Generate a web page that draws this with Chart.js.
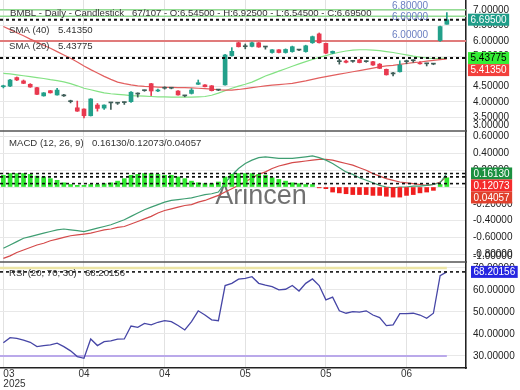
<!DOCTYPE html>
<html>
<head>
<meta charset="utf-8">
<script src="https://cdn.jsdelivr.net/npm/chart.js@4.4.1/dist/chart.umd.min.js"></script>
<style>
  html, body { margin: 0; padding: 0; background: #fff; }
  #wrap { width: 520px; height: 390px; }
</style>
</head>
<body>
<div id="wrap"><canvas id="c" width="520" height="390"></canvas></div>
<script>
const FONT = '"Liberation Sans", Arial, sans-serif';

// daily candles, index 0..66 (candle 67/107 is the last one)
const opens = [4.50,4.52,4.80,4.69,4.58,4.47,4.20,4.37,4.23,4.20, 4.01,3.81,3.77,3.55,3.90,3.80,3.97,3.96,3.98,4.01,
  4.26,4.37,4.60,4.36,4.45,4.45,4.36,4.20,4.28,4.58, 4.56,4.53,4.39,4.56,5.52,5.94,5.81,5.82,5.94,5.80,
  5.62,5.71,5.62,5.65,5.70,5.65,5.94,6.23,5.92,5.60, 5.32,5.34,5.33,5.38,5.32,5.32,5.24,5.07,4.92,4.99,
  5.32,5.35,5.28,5.25,5.24,6.01,6.545];
const highs = [4.55,4.74,4.82,4.72,4.60,4.48,4.31,4.38,4.45,4.25, 4.06,4.03,3.78,4.11,3.95,3.91,3.98,3.99,4.00,4.34,
  4.30,4.39,4.61,4.42,4.50,4.47,4.37,4.22,4.44,4.72, 4.57,4.54,4.41,5.56,5.78,5.96,5.90,5.96,5.95,5.82,
  5.72,5.72,5.74,5.83,5.72,5.86,6.16,6.26,5.93,5.67, 5.40,5.37,5.36,5.40,5.35,5.33,5.26,5.08,4.97,5.35,
  5.37,5.38,5.32,5.27,5.26,6.49,6.925];
const lows = [4.46,4.50,4.70,4.60,4.48,4.24,4.19,4.29,4.22,4.18, 3.97,3.69,3.48,3.54,3.70,3.76,3.76,3.92,3.92,3.99,
  4.16,4.35,4.21,4.34,4.42,4.43,4.22,4.17,4.26,4.57, 4.49,4.36,4.37,4.55,5.50,5.80,5.74,5.80,5.79,5.73,
  5.60,5.61,5.60,5.63,5.68,5.63,5.92,5.93,5.58,5.58, 5.24,5.28,5.30,5.28,5.30,5.20,5.09,4.88,4.85,4.98,
  5.25,5.30,5.24,5.18,5.22,5.98,6.545];
const closes = [4.51,4.72,4.72,4.61,4.49,4.25,4.30,4.30,4.39,4.20, 4.01,3.70,3.55,4.10,3.79,3.90,3.97,3.96,3.98,4.32,
  4.26,4.37,4.36,4.39,4.45,4.45,4.23,4.20,4.39,4.63, 4.50,4.37,4.39,5.54,5.66,5.81,5.81,5.94,5.80,5.80,
  5.71,5.62,5.72,5.81,5.70,5.84,6.14,5.94,5.60,5.66, 5.32,5.30,5.33,5.29,5.32,5.21,5.10,4.89,4.92,5.21,
  5.32,5.35,5.25,5.25,5.24,6.47,6.695];

const sma20 = [4.94,4.92,4.89,4.86,4.83,4.80,4.77,4.73,4.70,4.66, 4.60,4.53,4.45,4.40,4.35,4.30,4.27,4.25,4.23,4.21,
  4.20,4.19,4.18,4.17,4.17,4.16,4.16,4.16,4.16,4.17, 4.18,4.22,4.29,4.37,4.45,4.52,4.58,4.65,4.75,4.85,
  4.93,5.01,5.09,5.17,5.25,5.32,5.39,5.46,5.52,5.58, 5.63,5.67,5.70,5.71,5.71,5.70,5.68,5.65,5.62,5.58,
  5.54,5.50,5.47,5.44,5.42,5.43,5.43775];
const sma40 = [6.47,6.37,6.27,6.17,6.06,5.96,5.86,5.76,5.65,5.54, 5.43,5.31,5.18,5.06,4.95,4.84,4.74,4.65,4.60,4.56,
  4.53,4.51,4.50,4.49,4.48,4.48,4.47,4.47,4.46,4.45, 4.44,4.42,4.40,4.39,4.39,4.41,4.44,4.47,4.50,4.53,
  4.55,4.57,4.59,4.61,4.65,4.69,4.74,4.79,4.83,4.87, 4.91,4.95,4.99,5.03,5.07,5.11,5.15,5.18,5.20,5.23,
  5.26,5.29,5.31,5.34,5.36,5.39,5.4135];

const macdLine = [-0.73,-0.69,-0.65,-0.61,-0.59,-0.57,-0.55,-0.53,-0.51,-0.50, -0.51,-0.52,-0.53,-0.51,-0.49,-0.47,-0.45,-0.42,-0.39,-0.35,
  -0.31,-0.27,-0.24,-0.21,-0.18,-0.16,-0.15,-0.14,-0.13,-0.11, -0.09,-0.08,-0.06,0.05,0.14,0.22,0.28,0.32,0.35,0.36,
  0.35,0.34,0.34,0.34,0.35,0.36,0.37,0.35,0.32,0.28, 0.23,0.18,0.15,0.11,0.08,0.05,0.02,0.00,-0.01,0.00,
  0.00,0.01,0.01,0.02,0.03,0.05,0.1613];
const signalLine = [-0.85,-0.82,-0.78,-0.75,-0.72,-0.69,-0.67,-0.64,-0.62,-0.60, -0.58,-0.57,-0.56,-0.55,-0.53,-0.51,-0.50,-0.48,-0.47,-0.44,
  -0.41,-0.38,-0.35,-0.31,-0.28,-0.26,-0.24,-0.22,-0.21,-0.18, -0.16,-0.13,-0.10,-0.06,-0.02,0.02,0.06,0.11,0.15,0.18,
  0.22,0.25,0.27,0.29,0.30,0.31,0.32,0.33,0.33,0.32, 0.30,0.28,0.26,0.23,0.20,0.16,0.13,0.10,0.08,0.06,
  0.05,0.04,0.03,0.02,0.03,0.06,0.12073];
const macdHist = [0.14,0.16,0.16,0.16,0.15,0.13,0.12,0.10,0.08,0.05, 0.03,0.02,0.02,0.03,0.03,0.04,0.05,0.07,0.10,0.14,
  0.15,0.16,0.16,0.15,0.14,0.14,0.12,0.10,0.07,0.05, 0.04,0.04,0.06,0.12,0.15,0.16,0.16,0.16,0.15,0.14,
  0.11,0.09,0.07,0.05,0.04,0.03,0.03,-0.01,-0.02,-0.06, -0.07,-0.08,-0.09,-0.09,-0.09,-0.10,-0.10,-0.11,-0.12,-0.12,
  -0.10,-0.09,-0.07,-0.06,-0.04,0.03,0.11];

const rsi = [36.0,38.3,38.0,37.2,36.2,34.2,34.7,35.0,35.8,34.2, 32.3,29.7,28.9,37.7,34.7,36.5,36.8,37.6,37.7,43.6,
  43.0,44.8,44.1,45.3,46.0,45.6,43.8,41.8,45.6,50.5, 48.6,46.4,46.0,62.0,63.0,64.9,65.3,66.0,63.0,62.2,
  61.5,60.0,60.3,62.0,59.5,63.0,65.0,62.0,55.5,56.7, 50.5,49.4,50.1,49.9,50.5,48.6,47.4,43.8,44.1,49.2,
  49.2,49.4,48.6,47.1,49.4,66.5,68.20156];

// readouts shown in the headers and axis boxes
const lastHist = 0.04057;
const rsiBands = [70, 30];

// axis ticks
const xTickIdx = [0, 12, 24, 36, 48, 60];
const xTickLabels = [['03', '2025'], '04', '04', '05', '05', '06'];
const priceTicks = [3.0, 3.5, 4.0, 4.5, 5.0, 5.5, 6.0, 6.5, 7.0];
const macdTicks = [-1.0, -0.8, -0.6, -0.4, -0.2, 0, 0.2, 0.4, 0.6];
const rsiTicks = [30, 40, 50, 60, 70];

// horizontal level lines drawn in the price pane
const priceLevels = [7.02, 6.81, 6.0];
const priceLevelText = ['6.80000', '6.60000', '6.00000'];
const priceLevelColors = ['#93dc93', '#93dc93', '#e07b7b'];
const priceLevelTextDy = [-4, 1, -6];

const GREEN = '#22a08a', RED = '#e8394f', DOJI = '#3f5e58';
const idx = closes.map((_, i) => i);
const candleColor = idx.map(i => closes[i] > opens[i] ? GREEN : closes[i] < opens[i] ? RED : DOJI);
const last = a => a[a.length - 1];

const xy = arr => arr.map((v, i) => ({ x: i, y: v }));

function clamp(v, a, b) { return Math.max(a, Math.min(b, v)); }

function hline(ctx, a, y, color, width, dash) {
  ctx.save();
  ctx.strokeStyle = color;
  ctx.lineWidth = width;
  if (dash) ctx.setLineDash(dash);
  ctx.beginPath();
  ctx.moveTo(a.left, y);
  ctx.lineTo(a.right, y);
  ctx.stroke();
  ctx.restore();
}

function drawTickLabels(ctx, scale, ticks, x) {
  ctx.fillStyle = '#222';
  ctx.textAlign = 'left';
  ctx.textBaseline = 'middle';
  ticks.forEach(v => {
    const y = clamp(scale.getPixelForValue(v), scale.top + 5, scale.bottom - 6);
    ctx.fillText(v.toFixed(5), x, y);
  });
}

// value boxes on the right axis, pushed down when they overlap
function drawBoxes(ctx, scale, list, x) {
  const h = 12;
  const items = list.map(b => Object.assign({ y: scale.getPixelForValue(b.v) }, b)).sort((p, q) => p.y - q.y);
  let prev = -Infinity;
  items.forEach(b => {
    const y = Math.max(b.y, prev + h);
    prev = y;
    const txt = b.v.toFixed(5);
    const w = ctx.measureText(txt).width + 5;
    ctx.fillStyle = b.bg;
    ctx.fillRect(x, y - h / 2, w, h);
    ctx.fillStyle = b.fg;
    ctx.fillText(txt, x + 2.5, y + 0.5);
  });
}

const panes = {
  id: 'panes',
  beforeDatasetsDraw(chart) {
    const { ctx, chartArea: a, scales } = chart;
    const { yP, yM } = scales;
    priceLevels.forEach((v, k) => hline(ctx, a, yP.getPixelForValue(v), priceLevelColors[k], k === 2 ? 2 : 1.5));

    ctx.save();
    ctx.font = '27px ' + FONT;
    ctx.fillStyle = 'rgba(88,88,88,0.85)';
    ctx.textAlign = 'center';
    ctx.textBaseline = 'alphabetic';
    ctx.fillText('Arincen', a.left + a.width * 0.56, (yM.top + yM.bottom) / 2 + 7);
    ctx.restore();
  },
  afterDatasetsDraw(chart) {
    const { ctx, chartArea: a, scales } = chart;
    const { yP, yM, yR } = scales;
    const dots = [3, 3];

    // dotted markers for the latest values
    [last(closes), last(sma20)].forEach(v => hline(ctx, a, yP.getPixelForValue(v), '#111', 2, dots));
    [last(macdLine), last(signalLine), lastHist].forEach(v => hline(ctx, a, yM.getPixelForValue(v), '#111', 1.6, dots));
    hline(ctx, a, yR.getPixelForValue(last(rsi)), '#111', 1.6, dots);

    // pane separators
    hline(ctx, a, yM.top, '#555', 1.5);
    hline(ctx, a, yR.top, '#555', 1.5);

    ctx.save();
    ctx.font = '10px ' + FONT;
    ctx.textBaseline = 'middle';
    ctx.textAlign = 'left';

    // level labels
    ctx.fillStyle = '#6a7fc2';
    priceLevels.forEach((v, k) => {
      ctx.fillText(priceLevelText[k], a.left + 392, yP.getPixelForValue(v) + priceLevelTextDy[k]);
    });

    // pane headers
    ctx.font = '9.6px ' + FONT;
    ctx.fillStyle = '#333';
    const n = closes.length - 1;
    ctx.fillText('BMBL - Daily - Candlestick', a.left + 10, yP.top + 13);
    ctx.fillText((n + 1) + '/107 - O:' + opens[n].toFixed(5) + ' - H:' + highs[n].toFixed(5) +
      ' - L:' + lows[n].toFixed(5) + ' - C:' + closes[n].toFixed(5), a.left + 132, yP.top + 13);
    ctx.fillText('SMA (40)', a.left + 9, yP.top + 30);
    ctx.fillText(last(sma40).toFixed(5), a.left + 58, yP.top + 30);
    ctx.fillText('SMA (20)', a.left + 9, yP.top + 46);
    ctx.fillText(last(sma20).toFixed(5), a.left + 58, yP.top + 46);
    ctx.fillText('MACD (12, 26, 9)', a.left + 9, yM.top + 12);
    ctx.fillText(last(macdLine).toFixed(5) + '/' + last(signalLine).toFixed(5) + '/' + lastHist.toFixed(5), a.left + 92, yM.top + 12);
    ctx.fillText('RSI (20; 70; 30)', a.left + 9, yR.top + 11);
    ctx.fillText(last(rsi).toFixed(5), a.left + 85, yR.top + 11);

    // right axis labels and value boxes
    ctx.font = '10px ' + FONT;
    const ax = a.right + 7;
    drawTickLabels(ctx, yP, priceTicks, ax);
    drawTickLabels(ctx, yM, macdTicks, ax);
    drawTickLabels(ctx, yR, rsiTicks, ax);

    drawBoxes(ctx, yP, [
      { v: last(closes), bg: '#1f9d89', fg: '#fff' },
      { v: last(sma20), bg: '#35ee35', fg: '#000' },
      { v: last(sma40), bg: '#f2403c', fg: '#fff' }
    ], a.right + 2);
    drawBoxes(ctx, yM, [
      { v: last(macdLine), bg: '#1b9040', fg: '#fff' },
      { v: last(signalLine), bg: '#f52c2c', fg: '#fff' },
      { v: lastHist, bg: '#e0402c', fg: '#fff' }
    ], a.right + 5);
    drawBoxes(ctx, yR, [{ v: last(rsi), bg: '#2626e0', fg: '#fff' }], a.right + 5);
    ctx.restore();
  }
};

function yAxis(weight, min, max, ticks) {
  return {
    type: 'linear',
    position: 'right',
    stack: 'panes',
    stackWeight: weight,
    min: min,
    max: max,
    bounds: 'data',
    afterBuildTicks: s => { s.ticks = ticks.filter(v => v >= s.min && v <= s.max).map(v => ({ value: v })); },
    afterFit: s => { s.width = 54; },
    grid: { color: '#e8e8e8', drawTicks: false },
    border: { display: true, color: '#222', width: 1.5 },
    ticks: { display: false }
  };
}

new Chart(document.getElementById('c'), {
  type: 'bar',
  data: {
    datasets: [
      {
        label: 'bodies', yAxisID: 'yP', grouped: false,
        data: idx.map(i => ({ x: i, y: [opens[i], closes[i]] })),
        backgroundColor: candleColor, barPercentage: 1, categoryPercentage: 1, maxBarThickness: 4, minBarLength: 1
      },
      {
        label: 'wicks', yAxisID: 'yP', grouped: false,
        data: idx.map(i => ({ x: i, y: [lows[i], highs[i]] })),
        backgroundColor: candleColor, barPercentage: 1, categoryPercentage: 1, maxBarThickness: 1, minBarLength: 1
      },
      {
        type: 'line', label: 'SMA (40)', yAxisID: 'yP', data: xy(sma40),
        borderColor: '#e25f5f', borderWidth: 1.2, pointRadius: 0, tension: 0
      },
      {
        type: 'line', label: 'SMA (20)', yAxisID: 'yP', data: xy(sma20),
        borderColor: '#84e284', borderWidth: 1.2, pointRadius: 0, tension: 0
      },
      {
        label: 'Histogram', yAxisID: 'yM', grouped: false, data: xy(macdHist),
        backgroundColor: macdHist.map(v => v >= 0 ? '#30e630' : '#f01e1e'),
        barPercentage: 1, categoryPercentage: 1, maxBarThickness: 4
      },
      {
        type: 'line', label: 'MACD', yAxisID: 'yM', data: xy(macdLine),
        borderColor: '#3f9e72', borderWidth: 1.2, pointRadius: 0, tension: 0
      },
      {
        type: 'line', label: 'Signal', yAxisID: 'yM', data: xy(signalLine),
        borderColor: '#d44a4a', borderWidth: 1.2, pointRadius: 0, tension: 0
      },
      {
        type: 'line', label: 'RSI', yAxisID: 'yR', data: xy(rsi),
        borderColor: '#4646a6', borderWidth: 1.3, pointRadius: 0, tension: 0
      },
      {
        type: 'line', label: 'RSI 70', yAxisID: 'yR',
        data: [{ x: -0.5, y: rsiBands[0] }, { x: idx.length - 1, y: rsiBands[0] }],
        borderColor: '#ece5a6', borderWidth: 2.5, pointRadius: 0
      },
      {
        type: 'line', label: 'RSI 30', yAxisID: 'yR',
        data: [{ x: -0.5, y: rsiBands[1] }, { x: idx.length - 1, y: rsiBands[1] }],
        borderColor: '#baa9ea', borderWidth: 2, pointRadius: 0
      }
    ]
  },
  options: {
    responsive: false,
    animation: false,
    events: [],
    layout: { padding: 0 },
    plugins: { legend: { display: false }, tooltip: { enabled: false } },
    scales: {
      x: {
        type: 'linear',
        position: 'bottom',
        min: -0.5,
        max: 68.85,
        offset: false,
        bounds: 'data',
        // month ticks, plus an empty one at the right edge so 'inner' only shifts the first label
        afterBuildTicks: s => { s.ticks = xTickIdx.map(v => ({ value: v })).concat([{ value: s.max }]); },
        afterFit: s => { s.height = 22; s.paddingLeft = 0; s.paddingRight = 0; },
        grid: { color: '#e2e2e2', drawTicks: false, offset: false },
        border: { display: true, color: '#222', width: 1.5 },
        ticks: {
          autoSkip: false, maxRotation: 0, padding: 1, color: '#333', align: 'inner',
          font: { family: FONT, size: 10, lineHeight: 1.0 },
          callback: v => { const k = xTickIdx.indexOf(v); return k < 0 ? '' : xTickLabels[k]; }
        }
      },
      yP: yAxis(131, 3.05, 7.34, priceTicks),
      yM: yAxis(131, -0.893, 0.667, macdTicks),
      yR: yAxis(106, 24.5, 72.7, rsiTicks)
    }
  },
  plugins: [panes]
});
</script>
</body>
</html>
